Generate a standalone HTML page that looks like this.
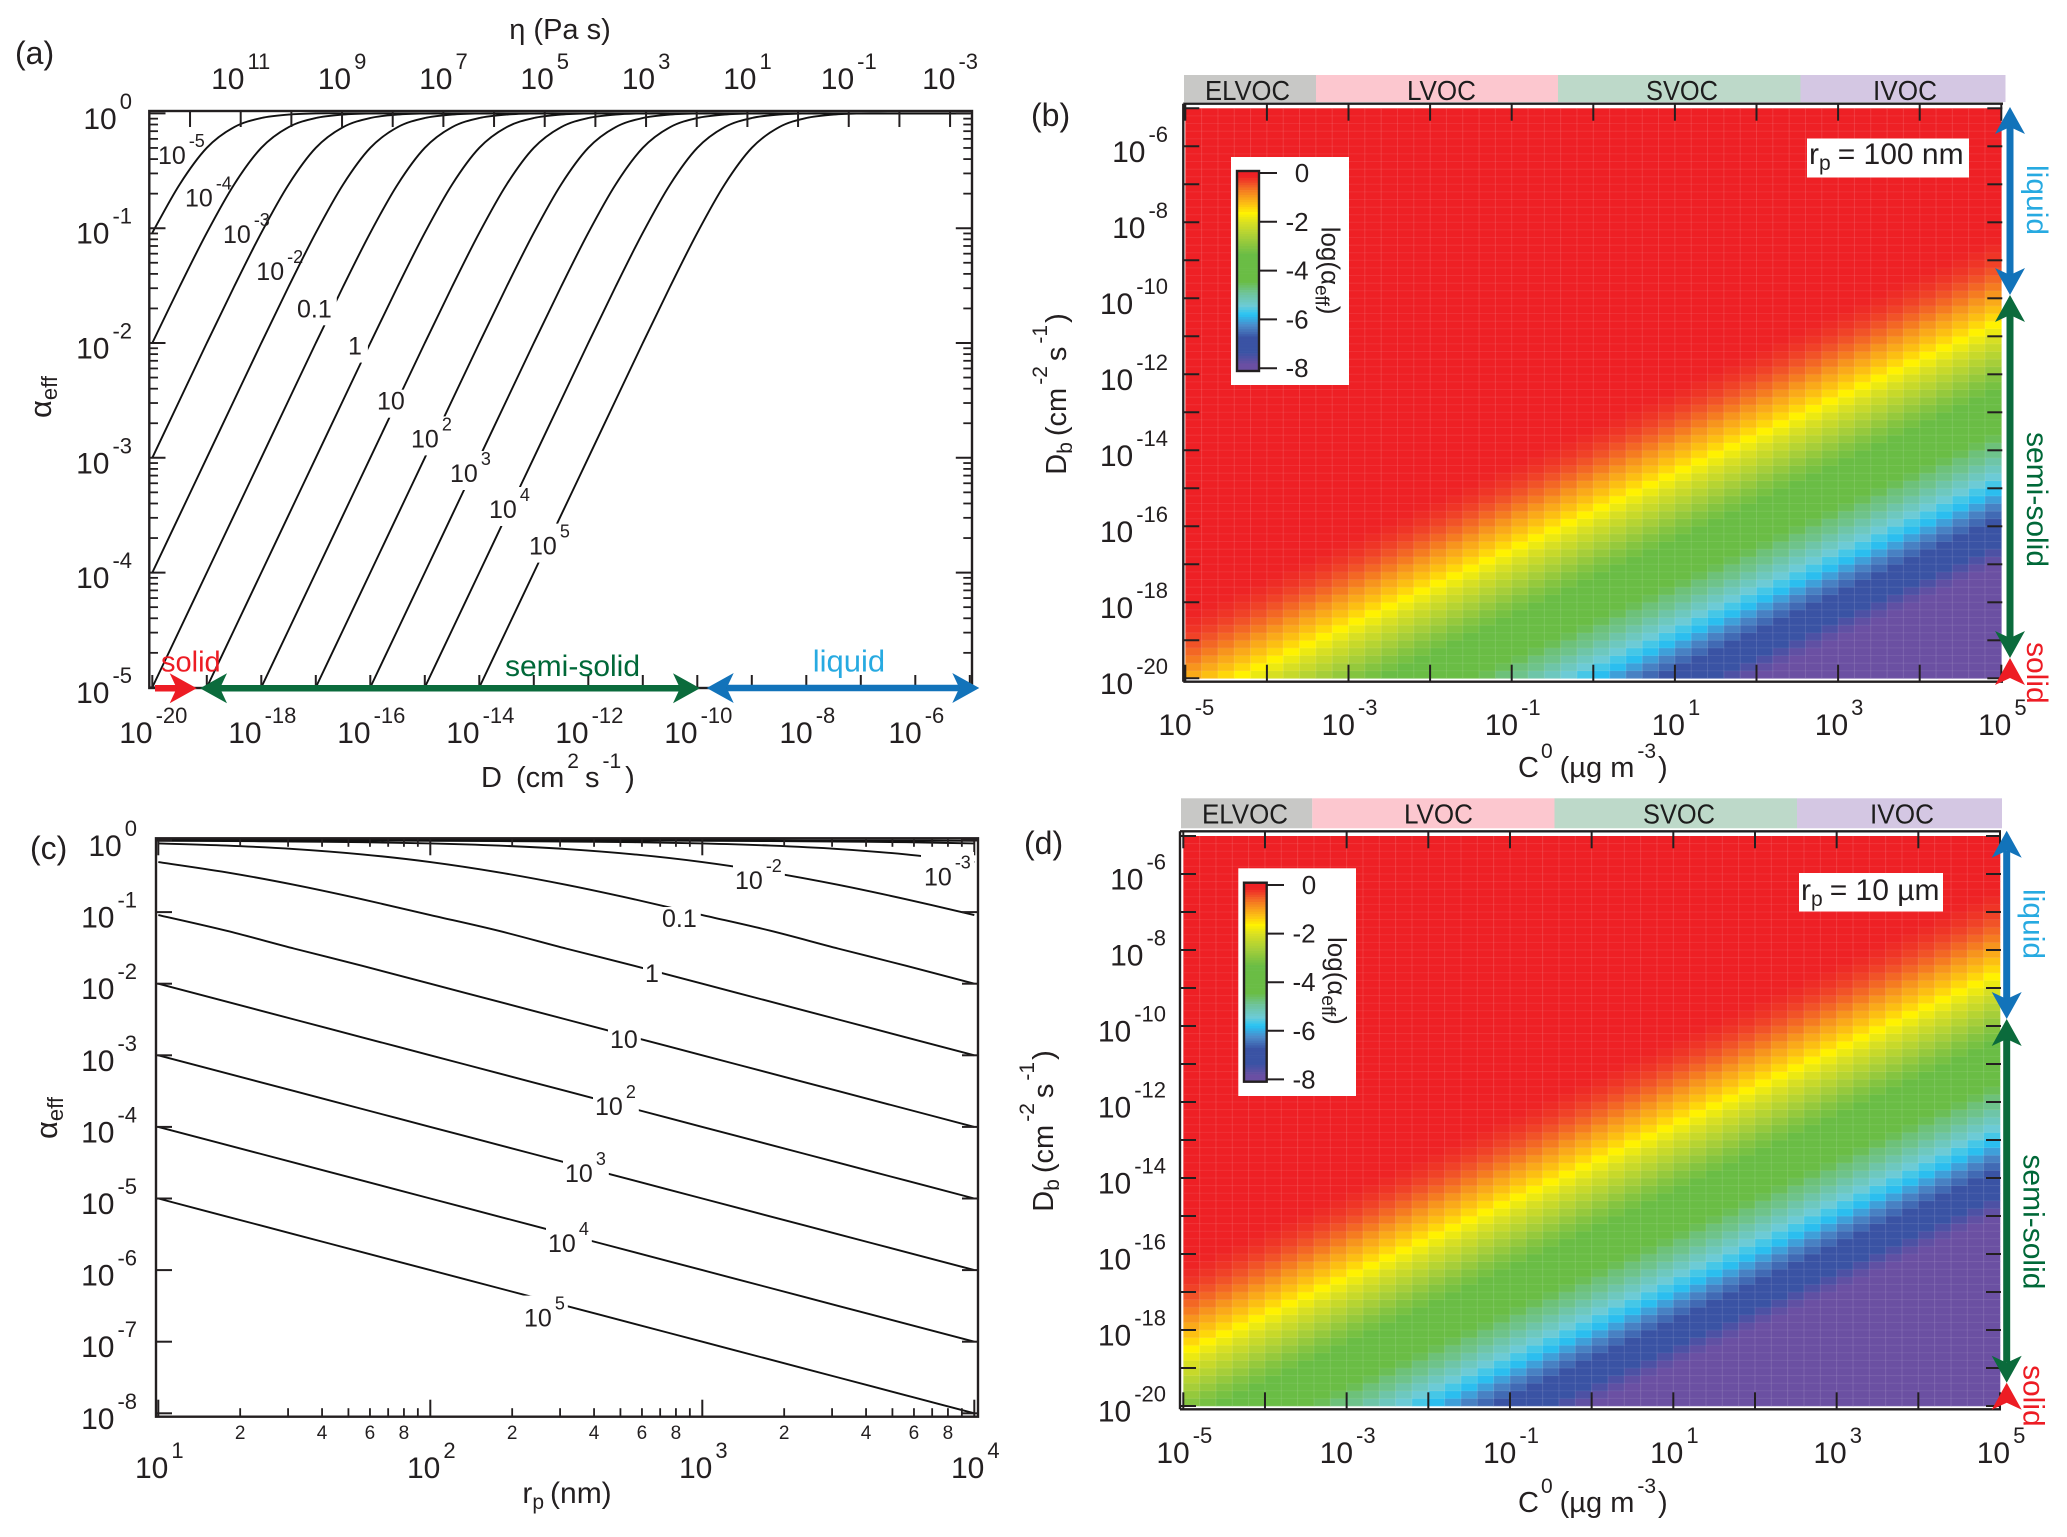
<!DOCTYPE html>
<html lang="en">
<head>
<meta charset="utf-8">
<title>Effective accommodation coefficient panels</title>
<style>
html,body{margin:0;padding:0;background:#fff;}
svg{display:block;font-family:"Liberation Sans",sans-serif;fill:#231f20;}
</style>
</head>
<body>
<svg id="figure" xmlns="http://www.w3.org/2000/svg" width="2067" height="1537" viewBox="0 0 2067 1537">
  <defs>
    <clipPath id="clip-a"><rect x="149" y="112" width="823" height="576.5"/></clipPath>
    <clipPath id="clip-c"><rect x="156" y="839" width="822" height="577"/></clipPath>
  </defs>
  <rect x="0" y="0" width="2067" height="1537" fill="#fff"/>
  <g id="panel-a"></g>
  <g id="panel-b"></g>
  <g id="panel-c"></g>
  <g id="panel-d"></g>
  <g id="static-text">
    <text x="15" y="64" font-size="32">(a)</text>
    <text x="1031" y="126" font-size="32">(b)</text>
    <text x="30" y="859" font-size="32">(c)</text>
    <text x="1024" y="854" font-size="32">(d)</text>

    <text x="560" y="39" text-anchor="middle" font-size="29">η (Pa s)</text>
    <text x="481" y="787" font-size="29">D<tspan dx="14">(cm</tspan><tspan dx="3" dy="-19" font-size="21">2</tspan><tspan dx="6" dy="19">s</tspan><tspan dx="3" dy="-19" font-size="21">-1</tspan><tspan dx="4" dy="19">)</tspan></text>
    <text transform="translate(51,397) rotate(-90)" text-anchor="middle" font-size="31">α<tspan dy="6" font-size="22">eff</tspan></text>

    <text x="1518" y="777" font-size="29">C<tspan dx="2" dy="-19" font-size="21">0</tspan><tspan dx="7" dy="19">(µg m</tspan><tspan dx="3" dy="-19" font-size="21">-3</tspan><tspan dx="2" dy="19">)</tspan></text>
    <text transform="translate(1066,394) rotate(-90)" text-anchor="middle" font-size="29">D<tspan dy="6" font-size="21">b</tspan><tspan dx="6" dy="-6">(cm</tspan><tspan dx="3" dy="-19" font-size="21">-2</tspan><tspan dx="5" dy="19">s</tspan><tspan dx="3" dy="-19" font-size="21">-1</tspan><tspan dx="2" dy="19">)</tspan></text>

    <text x="567" y="1503" text-anchor="middle" font-size="30">r<tspan dy="6" font-size="21">p</tspan><tspan dx="6" dy="-6">(nm)</tspan></text>
    <text transform="translate(57,1118) rotate(-90)" text-anchor="middle" font-size="31">α<tspan dy="6" font-size="22">eff</tspan></text>

    <text x="1518" y="1512" font-size="29">C<tspan dx="2" dy="-19" font-size="21">0</tspan><tspan dx="7" dy="19">(µg m</tspan><tspan dx="3" dy="-19" font-size="21">-3</tspan><tspan dx="2" dy="19">)</tspan></text>
    <text transform="translate(1053,1131) rotate(-90)" text-anchor="middle" font-size="29">D<tspan dy="6" font-size="21">b</tspan><tspan dx="6" dy="-6">(cm</tspan><tspan dx="3" dy="-19" font-size="21">-2</tspan><tspan dx="5" dy="19">s</tspan><tspan dx="3" dy="-19" font-size="21">-1</tspan><tspan dx="2" dy="19">)</tspan></text>
  </g>
  <g id="overlays"></g>
</svg>
<script>
/* ---------- Panel (a): alpha_eff vs bulk diffusivity, one curve per C* ---------- */
const panelADiffusivityTicks = [-20,-19,-18,-17,-16,-15,-14,-13,-12,-11,-10,-9,-8,-7,-6,-5];
const panelADiffusivityLabels = [-20,-18,-16,-14,-12,-10,-8,-6];
const panelAViscosityTicks = [12,11,10,9,8,7,6,5,4,3,2,1,0,-1,-2,-3];
const panelAViscosityLabels = [11,9,7,5,3,1,-1,-3];
const panelAAlphaDecades = [0,-1,-2,-3,-4,-5];
const panelALogD = [-20,-19.5,-19,-18.5,-18,-17.5,-17,-16.5,-16,-15.5,-15,-14.5,-14,-13.5,-13,-12.5,-12,-11.5,-11,-10.5,-10,-9.5,-9,-8.5,-8,-7.5,-7,-6.5,-6,-5.5,-5];
const curveACstarM5 = [-1.04,-.62,-.3,-.12,-.04,-.01,0,0,0,0,0,0,0,0,0,0,0,0,0,0,0,0,0,0,0,0,0,0,0,0,0];
const curveACstarM4 = [-2,-1.51,-1.04,-.62,-.3,-.12,-.04,-.01,0,0,0,0,0,0,0,0,0,0,0,0,0,0,0,0,0,0,0,0,0,0,0];
const curveACstarM3 = [-3,-2.5,-2,-1.51,-1.04,-.62,-.3,-.12,-.04,-.01,0,0,0,0,0,0,0,0,0,0,0,0,0,0,0,0,0,0,0,0,0];
const curveACstarM2 = [-4,-3.5,-3,-2.5,-2,-1.51,-1.04,-.62,-.3,-.12,-.04,-.01,0,0,0,0,0,0,0,0,0,0,0,0,0,0,0,0,0,0,0];
const curveACstarM1 = [-5,-4.5,-4,-3.5,-3,-2.5,-2,-1.51,-1.04,-.62,-.3,-.12,-.04,-.01,0,0,0,0,0,0,0,0,0,0,0,0,0,0,0,0,0];
const curveACstarP0 = [-6,-5.5,-5,-4.5,-4,-3.5,-3,-2.5,-2,-1.51,-1.04,-.62,-.3,-.12,-.04,-.01,0,0,0,0,0,0,0,0,0,0,0,0,0,0,0];
const curveACstarP1 = [-7,-6.5,-6,-5.5,-5,-4.5,-4,-3.5,-3,-2.5,-2,-1.51,-1.04,-.62,-.3,-.12,-.04,-.01,0,0,0,0,0,0,0,0,0,0,0,0,0];
const curveACstarP2 = [-8,-7.5,-7,-6.5,-6,-5.5,-5,-4.5,-4,-3.5,-3,-2.5,-2,-1.51,-1.04,-.62,-.3,-.12,-.04,-.01,0,0,0,0,0,0,0,0,0,0,0];
const curveACstarP3 = [-9,-8.5,-8,-7.5,-7,-6.5,-6,-5.5,-5,-4.5,-4,-3.5,-3,-2.5,-2,-1.51,-1.04,-.62,-.3,-.12,-.04,-.01,0,0,0,0,0,0,0,0,0];
const curveACstarP4 = [-10,-9.5,-9,-8.5,-8,-7.5,-7,-6.5,-6,-5.5,-5,-4.5,-4,-3.5,-3,-2.5,-2,-1.51,-1.04,-.62,-.3,-.12,-.04,-.01,0,0,0,0,0,0,0];
const curveACstarP5 = [-11,-10.5,-10,-9.5,-9,-8.5,-8,-7.5,-7,-6.5,-6,-5.5,-5,-4.5,-4,-3.5,-3,-2.5,-2,-1.51,-1.04,-.62,-.3,-.12,-.04,-.01,0,0,0,0,0];

/* ---------- Panel (c): alpha_eff vs particle radius, one curve per C* ---------- */
const panelCRadiusDecades = [1,2,3,4];
const panelCRadiusMinor = [2,3,4,5,6,7,8,9];
const panelCRadiusMinorLabels = [2,4,6,8];
const panelCAlphaDecades = [0,-1,-2,-3,-4,-5,-6,-7,-8];
const panelCLogR = [1,1.25,1.5,1.75,2,2.25,2.5,2.75,3,3.25,3.5,3.75,4];
const curveCCstarM5 = [0,0,0,0,0,0,0,0,0,0,-.001,-.001,-.004];
const curveCCstarM4 = [0,0,0,0,0,-.001,-.001,-.002,-.004,-.008,-.014,-.024,-.041];
const curveCCstarM3 = [0,-.001,-.001,-.002,-.004,-.008,-.014,-.024,-.041,-.071,-.119,-.194,-.301];
const curveCCstarM2 = [-.004,-.008,-.014,-.024,-.041,-.071,-.119,-.194,-.301,-.444,-.619,-.821,-1.041];
const curveCCstarM1 = [-.041,-.071,-.119,-.194,-.301,-.444,-.619,-.821,-1.041,-1.26,-1.51,-1.75,-2];
const curveCCstarP0 = [-.301,-.444,-.619,-.821,-1.041,-1.26,-1.51,-1.75,-2,-2.25,-2.5,-2.75,-3];
const curveCCstarP1 = [-1.041,-1.26,-1.51,-1.75,-2,-2.25,-2.5,-2.75,-3,-3.25,-3.5,-3.75,-4];
const curveCCstarP2 = [-2,-2.25,-2.5,-2.75,-3,-3.25,-3.5,-3.75,-4,-4.25,-4.5,-4.75,-5];
const curveCCstarP3 = [-3,-3.25,-3.5,-3.75,-4,-4.25,-4.5,-4.75,-5,-5.25,-5.5,-5.75,-6];
const curveCCstarP4 = [-4,-4.25,-4.5,-4.75,-5,-5.25,-5.5,-5.75,-6,-6.25,-6.5,-6.75,-7];
const curveCCstarP5 = [-5,-5.25,-5.5,-5.75,-6,-6.25,-6.5,-6.75,-7,-7.25,-7.5,-7.75,-8];

/* ---------- Panels (b), (d): heatmaps. The colour read from the picture only depends on
   log10(D) - log10(C0), so each panel keeps its log10(alpha) per diagonal, from -24.8 to -0.2 in 0.2 steps. ---------- */
const heatLogC = [-5,-4.8,-4.6,-4.4,-4.2,-4,-3.8,-3.6,-3.4,-3.2,-3,-2.8,-2.6,-2.4,-2.2,-2,-1.8,-1.6,-1.4,-1.2,-1,-.8,-.6,-.4,-.2,0,.2,.4,.6,.8,1,1.2,1.4,1.6,1.8,2,2.2,2.4,2.6,2.8,3,3.2,3.4,3.6,3.8,4,4.2,4.4,4.6,4.8];
const heatLogD = [-20,-19.8,-19.6,-19.4,-19.2,-19,-18.8,-18.6,-18.4,-18.2,-18,-17.8,-17.6,-17.4,-17.2,-17,-16.8,-16.6,-16.4,-16.2,-16,-15.8,-15.6,-15.4,-15.2,-15,-14.8,-14.6,-14.4,-14.2,-14,-13.8,-13.6,-13.4,-13.2,-13,-12.8,-12.6,-12.4,-12.2,-12,-11.8,-11.6,-11.4,-11.2,-11,-10.8,-10.6,-10.4,-10.2,-10,-9.8,-9.6,-9.4,-9.2,-9,-8.8,-8.6,-8.4,-8.2,-8,-7.8,-7.6,-7.4,-7.2,-7,-6.8,-6.6,-6.4,-6.2,-6,-5.8,-5.6,-5.4,-5.2];
const heatXTicks = [-5,-4,-3,-2,-1,0,1,2,3,4,5];
const heatXLabels = [-5,-3,-1,1,3,5];
const heatYTicks = [-5,-6,-7,-8,-9,-10,-11,-12,-13,-14,-15,-16,-17,-18,-19,-20];
const heatYLabels = [-6,-8,-10,-12,-14,-16,-18,-20];
const logAlphaDiagonalB = [
 -8,-8,-8,-8,-8,-8,-8,-8,-8,-8,-8,-8,-8,-8,
 -7.9,-7.7,-7.5,-7.3,-7.1,-6.9,-6.7,-6.5,-6.3,-6.05,
 -5.8,-5.6,-5.4,-5.2,-5,-4.8,-4.7,-4.5,-4.3,-4.1,
 -3.9,-3.75,-3.55,-3.35,-3.15,-3,-2.8,-2.6,-2.4,-2.2,
 -2,-1.8,-1.6,-1.4,-1.22,-1.04,-.87,-.68,-.54,-.41,
 -.3,-.21,-.15,-.1,-.06,-.04,-.03,-.02,-.01,-.01,
 0,0,0,0,0,0,0,0,0,0,0,0,0,0,0,0,0,0,0,0,0,0,0,0,0,0,0,0,0,0,
 0,0,0,0,0,0,0,0,0,0,0,0,0,0,0,0,0,0,0,0,0,0,0,0,0,0,0,0,0,0
];
const logAlphaDiagonalD = [
 -8,-8,-8,-8,-8,-8,-8,-8,-8,-8,-8,-8,-8,-8,-8,-8,-8,-8,-8,-8,-8,-8,-8,-8,
 -7.9,-7.7,-7.5,-7.3,-7.1,-6.9,-6.7,-6.5,-6.3,-6.05,
 -5.8,-5.6,-5.4,-5.2,-5,-4.8,-4.7,-4.5,-4.3,-4.1,
 -3.9,-3.75,-3.55,-3.35,-3.15,-3,-2.8,-2.6,-2.4,-2.2,
 -2,-1.8,-1.6,-1.4,-1.22,-1.04,-.87,-.68,-.54,-.41,
 -.3,-.21,-.15,-.1,-.06,-.04,-.03,-.02,-.01,-.01,
 0,0,0,0,0,0,0,0,0,0,0,0,0,0,0,0,0,0,0,0,0,0,0,0,0,
 0,0,0,0,0,0,0,0,0,0,0,0,0,0,0,0,0,0,0,0,0,0,0,0,0
];
const colorScaleTicks = [0,-2,-4,-6,-8];
const colorStopValues = [0,-.1,-.35,-.7,-1,-1.3,-1.6,-2,-2.6,-3.3,-4.4,-4.9,-5.4,-5.75,-6.2,-6.7,-7.3,-7.8,-8];
const colorStopHex = ['#ee2025','#ee2425','#f04a28','#f57f20','#f9a51a','#fdc90f','#fff200','#d7df23','#a6ce39','#6abd45','#6abd45','#6fc49d','#6ccbd6','#27c4f4','#4b8ccb','#3a53a4','#3a53a4','#6a4fa3','#6b50a2'];

const NS = 'http://www.w3.org/2000/svg';
const INK = '#231f20';
const panelA = document.getElementById('panel-a');
const panelB = document.getElementById('panel-b');
const panelC = document.getElementById('panel-c');
const panelD = document.getElementById('panel-d');
const overlays = document.getElementById('overlays');

function create(tag, attrs, parent) {
  const el = document.createElementNS(NS, tag);
  for (const key in attrs) el.setAttribute(key, attrs[key]);
  parent.appendChild(el);
  return el;
}
function tickLine(parent, x1, y1, x2, y2, name, width) {
  const el = create('line', {x1, y1, x2, y2, stroke: INK, 'stroke-width': width || 2}, parent);
  
  
  return el;
}
function frameRect(parent, x, y, w, h, name) {
  const el = create('rect', {x, y, width: w, height: h, fill: 'none', stroke: INK, 'stroke-width': 2.4}, parent);
  
  
  return el;
}
function plainLabel(parent, x, y, str, size, anchor, name, extra) {
  const el = create('text', Object.assign({x, y, 'font-size': size, 'text-anchor': anchor}, extra || {}), parent);
  el.textContent = str;
  
  
  return el;
}
function powerLabel(parent, x, y, exponent, anchor, name, size, supSize, lift) {
  const el = create('text', {x, y, 'font-size': size || 30, 'text-anchor': anchor}, parent);
  el.appendChild(document.createTextNode('10'));
  const sup = create('tspan', {dx: 3, dy: -(lift || 20), 'font-size': supSize || 22}, el);
  sup.textContent = String(exponent);
  
  
  return el;
}
function smoothPath(points) {
  let d = 'M' + points[0][0].toFixed(2) + ' ' + points[0][1].toFixed(2);
  for (let i = 0; i < points.length - 1; i++) {
    const p0 = points[Math.max(i - 1, 0)], p1 = points[i], p2 = points[i + 1], p3 = points[Math.min(i + 2, points.length - 1)];
    const c1x = p1[0] + (p2[0] - p0[0]) / 6, c1y = p1[1] + (p2[1] - p0[1]) / 6;
    const c2x = p2[0] - (p3[0] - p1[0]) / 6, c2y = p2[1] - (p3[1] - p1[1]) / 6;
    d += 'C' + c1x.toFixed(2) + ' ' + c1y.toFixed(2) + ' ' + c2x.toFixed(2) + ' ' + c2y.toFixed(2) + ' ' + p2[0].toFixed(2) + ' ' + p2[1].toFixed(2);
  }
  return d;
}
function drawCurve(parent, xs, ys, xScale, yScale, clipId, name) {
  const pts = xs.map((x, i) => [xScale(x), yScale(ys[i])]);
  const el = create('path', {d: smoothPath(pts), fill: 'none', stroke: '#111', 'stroke-width': 1.9, 'clip-path': 'url(#' + clipId + ')'}, parent);
  
  
}
function curveLabel(parent, x, y, content, exponent, gap, name) {
  const mask = create('rect', {fill: '#fff', width: 0, height: 0}, parent);
  
  
  const el = exponent === null
    ? plainLabel(parent, x, y, content, 25, 'start', name)
    : powerLabel(parent, x, y, exponent, 'start', name, 25, 18, 17);
  if (gap > 0) {
    const b = el.getBBox();
    mask.setAttribute('x', b.x - 2);
    mask.setAttribute('y', b.y + 2);
    mask.setAttribute('width', b.width + gap);
    mask.setAttribute('height', b.height);
  }
}

/* ----- colour scale ----- */
function hexToRgb(h) {
  return [parseInt(h.slice(1, 3), 16), parseInt(h.slice(3, 5), 16), parseInt(h.slice(5, 7), 16)];
}
function colorFor(v) {
  if (v >= colorStopValues[0]) return colorStopHex[0];
  for (let i = 1; i < colorStopValues.length; i++) {
    if (v >= colorStopValues[i]) {
      const t = (colorStopValues[i - 1] - v) / (colorStopValues[i - 1] - colorStopValues[i]);
      const a = hexToRgb(colorStopHex[i - 1]), b = hexToRgb(colorStopHex[i]);
      return 'rgb(' + a.map((c, k) => Math.round(c + (b[k] - c) * t)).join(',') + ')';
    }
  }
  return colorStopHex[colorStopHex.length - 1];
}

/* ----- panel (a) ----- */
function drawPanelA() {
  const xD = v => 152.3 + (v + 20) * 54.5;
  const xEta = v => 240.7 + (11 - v) * 50.67;
  const yA = v => 113.4 - v * 114.8;
  const curves = [curveACstarM5, curveACstarM4, curveACstarM3, curveACstarM2, curveACstarM1, curveACstarP0, curveACstarP1, curveACstarP2, curveACstarP3, curveACstarP4, curveACstarP5];
  curves.forEach(c => drawCurve(panelA, panelALogD, c, xD, yA, 'clip-a', 'panel-a-curve'));

  panelAAlphaDecades.forEach(d => {
    tickLine(panelA, 149.3, yA(d), 165.5, yA(d), 'panel-a-y-tick-left');
    tickLine(panelA, 972, yA(d), 955.8, yA(d), 'panel-a-y-tick-right');
    powerLabel(panelA, 132, yA(d) + 15.5, d, 'end', 'panel-a-y-tick-label');
  });
  panelAAlphaDecades.slice(1).forEach(d => {
    [2, 3, 4, 5, 6, 7, 8, 9].forEach(m => {
      const y = yA(d + Math.log10(m));
      tickLine(panelA, 149.3, y, 158, y, 'panel-a-y-minor-tick-left', 1.8);
      tickLine(panelA, 972, y, 963.3, y, 'panel-a-y-minor-tick-right', 1.8);
    });
  });
  panelADiffusivityTicks.forEach(d => tickLine(panelA, xD(d), 688, xD(d), 675, 'panel-a-x-tick'));
  panelAViscosityTicks.forEach(v => tickLine(panelA, xEta(v), 111, xEta(v), 127, 'panel-a-viscosity-tick'));
  frameRect(panelA, 149.3, 111, 822.7, 577, 'panel-a-plot-frame');
  panelADiffusivityLabels.forEach(d => powerLabel(panelA, xD(d) + 1, 743, d, 'middle', 'panel-a-x-tick-label'));
  panelAViscosityLabels.forEach(v => powerLabel(panelA, xEta(v), 89, v, 'middle', 'panel-a-viscosity-tick-label'));

  curveLabel(panelA, 158, 164, '10', -5, 0, 'curve-label-cstar-1e-5');
  curveLabel(panelA, 185, 206.7, '10', -4, 0, 'curve-label-cstar-1e-4');
  curveLabel(panelA, 223, 243, '10', -3, 0, 'curve-label-cstar-1e-3');
  curveLabel(panelA, 256.3, 280, '10', -2, 0, 'curve-label-cstar-1e-2');
  curveLabel(panelA, 297, 317.3, '0.1', null, 7, 'curve-label-cstar-0.1');
  curveLabel(panelA, 348, 354.6, '1', null, 8, 'curve-label-cstar-1');
  curveLabel(panelA, 377, 409.7, '10', null, 6, 'curve-label-cstar-10');
  curveLabel(panelA, 411, 447.4, '10', 2, 4, 'curve-label-cstar-1e2');
  curveLabel(panelA, 450, 482, '10', 3, 4, 'curve-label-cstar-1e3');
  curveLabel(panelA, 489, 518, '10', 4, 4, 'curve-label-cstar-1e4');
  curveLabel(panelA, 529, 554.6, '10', 5, 4, 'curve-label-cstar-1e5');
}

/* ----- panel (c) ----- */
function drawPanelC() {
  const xR = v => 158.3 + (v - 1) * 272;
  const yA = v => 840.5 - v * 71.6;
  const curves = [curveCCstarM5, curveCCstarM4, curveCCstarM3, curveCCstarM2, curveCCstarM1, curveCCstarP0, curveCCstarP1, curveCCstarP2, curveCCstarP3, curveCCstarP4, curveCCstarP5];
  curves.forEach(c => drawCurve(panelC, panelCLogR, c, xR, yA, 'clip-c', 'panel-c-curve'));

  panelCAlphaDecades.forEach(d => {
    tickLine(panelC, 156, yA(d), 172, yA(d), 'panel-c-y-tick-left');
    tickLine(panelC, 978, yA(d), 962, yA(d), 'panel-c-y-tick-right');
    powerLabel(panelC, 137, yA(d) + 15.5, d, 'end', 'panel-c-y-tick-label');
  });
  panelCRadiusDecades.forEach(d => {
    tickLine(panelC, xR(d), 1416.7, xR(d), 1399.7, 'panel-c-x-tick-bottom');
    tickLine(panelC, xR(d), 838.3, xR(d), 855.3, 'panel-c-x-tick-top');
    powerLabel(panelC, xR(d) + 1, 1478, d, 'middle', 'panel-c-x-tick-label');
    if (d === 4) return;
    panelCRadiusMinor.forEach(m => {
      const x = xR(d + Math.log10(m));
      tickLine(panelC, x, 1416.7, x, 1408.2, 'panel-c-x-minor-tick-bottom', 1.8);
      tickLine(panelC, x, 838.3, x, 846.8, 'panel-c-x-minor-tick-top', 1.8);
    });
    panelCRadiusMinorLabels.forEach(m => {
      plainLabel(panelC, xR(d + Math.log10(m)), 1439, String(m), 19, 'middle', 'panel-c-x-minor-tick-label');
    });
  });
  frameRect(panelC, 156, 838.3, 822, 578.4, 'panel-c-plot-frame');

  const g = create('rect', {x: 921, y: 852, width: 53, height: 38, fill: '#fff'}, panelC);
  
  
  curveLabel(panelC, 924, 885.3, '10', -3, 0, 'curve-label-cstar-1e-3');
  curveLabel(panelC, 735, 889, '10', -2, 5, 'curve-label-cstar-1e-2');
  curveLabel(panelC, 662, 927, '0.1', null, 6, 'curve-label-cstar-0.1');
  curveLabel(panelC, 645, 982, '1', null, 5, 'curve-label-cstar-1');
  curveLabel(panelC, 610, 1048, '10', null, 5, 'curve-label-cstar-10');
  curveLabel(panelC, 595, 1115, '10', 2, 5, 'curve-label-cstar-1e2');
  curveLabel(panelC, 565, 1181.8, '10', 3, 5, 'curve-label-cstar-1e3');
  curveLabel(panelC, 548, 1252, '10', 4, 5, 'curve-label-cstar-1e4');
  curveLabel(panelC, 524, 1326.6, '10', 5, 5, 'curve-label-cstar-1e5');
}

/* ----- heatmap panels ----- */
function drawHeatPanel(parent, diagonal, xC, yD, frame, bands, labelBase, yLabelRight, xLabelBase, prefix) {
  bands.forEach(b => {
    const band = create('rect', {x: b.x0, y: bands.top, width: b.x1 - b.x0, height: bands.height, fill: b.fill}, parent);
    
    
    const txt = plainLabel(parent, b.tx0, bands.base, b.name, 28, 'start', prefix + '-band-label-' + b.name.toLowerCase(), {textLength: b.tx1 - b.tx0, lengthAdjust: 'spacingAndGlyphs'});
    txt.setAttribute('fill', '#1d1d1d');
  });
  const step = 0.2;
  heatLogD.forEach(d => {
    heatLogC.forEach(c => {
      const value = diagonal[Math.round((d - c + 24.8) / step)];
      const x0 = xC(c), x1 = xC(c + step), y0 = yD(d + step), y1 = yD(d);
      const cell = create('rect', {x: x0.toFixed(2), y: y0.toFixed(2), width: (x1 - x0 + 0.3).toFixed(2), height: (y1 - y0 + 0.3).toFixed(2), fill: colorFor(value)}, parent);
      
      
    });
  });
  heatLogC.forEach(c => {
    const line = create('line', {x1: xC(c), x2: xC(c), y1: yD(-5), y2: yD(-20), stroke: 'rgba(255,255,255,.12)', 'stroke-width': 1}, parent);
    
    
  });
  heatLogD.forEach(d => {
    const line = create('line', {x1: xC(-5), x2: xC(5), y1: yD(d), y2: yD(d), stroke: 'rgba(255,255,255,.08)', 'stroke-width': 1}, parent);
    
    
  });
  heatXTicks.forEach(c => {
    tickLine(parent, xC(c), frame.top, xC(c), frame.top + 17, prefix + '-x-tick-top');
    tickLine(parent, xC(c), frame.bottom, xC(c), frame.bottom - 17, prefix + '-x-tick-bottom');
  });
  heatYTicks.forEach(d => {
    tickLine(parent, frame.left, yD(d), frame.left + 16, yD(d), prefix + '-y-tick-left');
    tickLine(parent, xC(5) + 1, yD(d), xC(5) - 14, yD(d), prefix + '-y-tick-right');
  });
  tickLine(parent, frame.left, frame.top, frame.left, frame.bottom, prefix + '-left-axis', 2.4);
  tickLine(parent, frame.left, frame.top, frame.right, frame.top, prefix + '-top-axis', 2.4);
  tickLine(parent, frame.left, frame.bottom, frame.right, frame.bottom, prefix + '-bottom-axis', 2.4);
  heatXLabels.forEach(c => powerLabel(parent, xC(c) + 1, xLabelBase, c, 'middle', prefix + '-x-tick-label'));
  heatYLabels.forEach(d => powerLabel(parent, yLabelRight, yD(d) + 15.5, d, 'end', prefix + '-y-tick-label'));
}
function drawColorbar(box, bar, yTick, tickEnd, labelMidX, titleX, titleY, prefix) {
  const bg = create('rect', {x: box.x, y: box.y, width: box.w, height: box.h, fill: '#fff'}, overlays);
  
  
  const stepV = 0.1;
  for (let v = 0; v > -8 - 1e-6; v -= stepV) {
    const y0 = v === 0 ? bar.y : yTick(v);
    const y1 = Math.min(yTick(v - stepV), bar.y + bar.h);
    const seg = create('rect', {x: bar.x, y: y0.toFixed(2), width: bar.w, height: Math.max(0.5, y1 - y0 + 0.3).toFixed(2), fill: colorFor(v)}, overlays);
    
    
  }
  frameRect(overlays, bar.x, bar.y, bar.w, bar.h, prefix + '-colorbar-frame');
  colorScaleTicks.forEach(v => {
    tickLine(overlays, bar.x + bar.w, yTick(v), tickEnd, yTick(v), prefix + '-colorbar-tick');
    plainLabel(overlays, labelMidX + (v === 0 ? 5 : 0), yTick(v) + 9, String(v), 26, 'middle', prefix + '-colorbar-tick-label');
  });
  const title = create('text', {'font-size': 26, transform: 'translate(' + titleX + ',' + titleY + ') rotate(90)'}, overlays);
  title.appendChild(document.createTextNode('log(α'));
  const sub = create('tspan', {dy: 6, 'font-size': 19}, title);
  sub.textContent = 'eff';
  const close = create('tspan', {dy: -6}, title);
  close.textContent = ')';
  
  
}
function whiteBoxText(box, baseline, rest, prefix) {
  const bg = create('rect', {x: box.x, y: box.y, width: box.w, height: box.h, fill: '#fff'}, overlays);
  
  
  const t = create('text', {x: box.x + 2, y: baseline, 'font-size': 30}, overlays);
  t.appendChild(document.createTextNode('r'));
  const sub = create('tspan', {dy: 6, 'font-size': 21}, t);
  sub.textContent = 'p';
  const tail = create('tspan', {dx: 7, dy: -6}, t);
  tail.textContent = rest;
  
  
}

/* ----- arrows ----- */
function headPoints(tipX, tipY, dirX, dirY, len, half, notch) {
  const backX = tipX - dirX * len, backY = tipY - dirY * len;
  const nX = tipX - dirX * (len - notch), nY = tipY - dirY * (len - notch);
  return [tipX + ',' + tipY, (backX + dirY * half) + ',' + (backY + dirX * half), nX + ',' + nY, (backX - dirY * half) + ',' + (backY - dirX * half)].join(' ');
}
function arrow(x1, y1, x2, y2, color, headAtStart, name, shaftW) {
  const len = Math.hypot(x2 - x1, y2 - y1);
  const dx = (x2 - x1) / len, dy = (y2 - y1) / len;
  const sx = headAtStart ? x1 + dx * 20 : x1, sy = headAtStart ? y1 + dy * 20 : y1;
  const shaft = create('line', {x1: sx, y1: sy, x2: x2 - dx * 20, y2: y2 - dy * 20, stroke: color, 'stroke-width': shaftW}, overlays);
  
  
  const h2 = create('polygon', {points: headPoints(x2, y2, dx, dy, 27, 15, 7), fill: color}, overlays);
  
  
  if (headAtStart) {
    const h1 = create('polygon', {points: headPoints(x1, y1, -dx, -dy, 27, 15, 7), fill: color}, overlays);
    
    
  }
}
function sideText(x, y, str, color, name) {
  const el = create('text', {'font-size': 30, fill: color, transform: 'translate(' + x + ',' + y + ') rotate(90)'}, overlays);
  el.textContent = str;
  
  
}

const RED = '#ed1c24', GREEN = '#0b6b3c', BLUE = '#1273ba', SKY = '#27aae1';

drawPanelA();
drawPanelC();

const bandsB = [
  {name: 'ELVOC', x0: 1184, x1: 1316, tx0: 1205, tx1: 1290, fill: '#c8c8c6'},
  {name: 'LVOC', x0: 1316, x1: 1558, tx0: 1407, tx1: 1476, fill: '#fcc7cf'},
  {name: 'SVOC', x0: 1558, x1: 1800.5, tx0: 1646, tx1: 1718, fill: '#bdd9c9'},
  {name: 'IVOC', x0: 1800.5, x1: 2005.5, tx0: 1873, tx1: 1937, fill: '#d4c7e3'}
];
bandsB.top = 75; bandsB.height = 27; bandsB.base = 100;
drawHeatPanel(panelB, logAlphaDiagonalB, v => 1185.3 + (v + 5) * 81.6, v => 678.3 - (v + 20) * 38,
  {left: 1183.3, right: 2003, top: 103.7, bottom: 681.7}, bandsB, 0, 1168, 735, 'panel-b');

const bandsD = [
  {name: 'ELVOC', x0: 1181, x1: 1312.3, tx0: 1202, tx1: 1288, fill: '#c8c8c6'},
  {name: 'LVOC', x0: 1312.3, x1: 1554.5, tx0: 1404, tx1: 1473, fill: '#fcc7cf'},
  {name: 'SVOC', x0: 1554.5, x1: 1797, tx0: 1643, tx1: 1715, fill: '#bdd9c9'},
  {name: 'IVOC', x0: 1797, x1: 2002, tx0: 1870, tx1: 1934, fill: '#d4c7e3'}
];
bandsD.top = 798.3; bandsD.height = 30; bandsD.base = 823.3;
drawHeatPanel(panelD, logAlphaDiagonalD, v => 1183.3 + (v + 5) * 81.67, v => 1406 - (v + 20) * 38,
  {left: 1180, right: 2001, top: 831.3, bottom: 1409.3}, bandsD, 0, 1166, 1463, 'panel-d');

drawColorbar({x: 1231, y: 157, w: 118, h: 228}, {x: 1237, y: 171, w: 22, h: 200}, v => 173 - v * 24.4, 1277, 1297, 1321.7, 226.7, 'panel-b');
drawColorbar({x: 1238.3, y: 868.3, w: 117.7, h: 227.7}, {x: 1244, y: 882.7, w: 22.7, h: 199}, v => 885 - v * 24.3, 1284, 1304, 1328, 937, 'panel-d');

whiteBoxText({x: 1807, y: 138.5, w: 162, h: 39}, 164, '= 100 nm', 'panel-b');
whiteBoxText({x: 1799, y: 873, w: 144, h: 38.5}, 900, '= 10 µm', 'panel-d');

/* panel (a) phase arrows */
arrow(155, 688.3, 196.7, 688.3, RED, false, 'panel-a-solid-arrow', 6.5);
arrow(200, 688.3, 700, 688.3, GREEN, true, 'panel-a-semi-solid-arrow', 6.5);
arrow(706.7, 688, 979.3, 688, BLUE, true, 'panel-a-liquid-arrow', 6.5);
plainLabel(overlays, 161, 671.7, 'solid', 29, 'start', 'panel-a-solid-label', {fill: RED});
plainLabel(overlays, 505, 676, 'semi-solid', 30, 'start', 'panel-a-semi-solid-label', {fill: '#006838'});
plainLabel(overlays, 812.7, 671.7, 'liquid', 31, 'start', 'panel-a-liquid-label', {fill: SKY});

/* panel (b) phase arrows */
arrow(2010, 295, 2010, 107, BLUE, true, 'panel-b-liquid-arrow', 7);
arrow(2010, 295, 2010, 658, GREEN, true, 'panel-b-semi-solid-arrow', 7);
arrow(2010, 686, 2010, 658, RED, false, 'panel-b-solid-arrow', 0);
sideText(2027, 165, 'liquid', SKY, 'panel-b-liquid-label');
sideText(2027, 432, 'semi-solid', '#006838', 'panel-b-semi-solid-label');
sideText(2027, 642, 'solid', RED, 'panel-b-solid-label');

/* panel (d) phase arrows */
arrow(2006.7, 1019, 2006.7, 830.7, BLUE, true, 'panel-d-liquid-arrow', 7);
arrow(2006.7, 1019, 2006.7, 1382.7, GREEN, true, 'panel-d-semi-solid-arrow', 7);
arrow(2006.7, 1409, 2006.7, 1382.7, RED, false, 'panel-d-solid-arrow', 0);
sideText(2023.5, 889, 'liquid', SKY, 'panel-d-liquid-label');
sideText(2023.5, 1154.4, 'semi-solid', '#006838', 'panel-d-semi-solid-label');
sideText(2023.5, 1365, 'solid', RED, 'panel-d-solid-label');
</script>
</body>
</html>
